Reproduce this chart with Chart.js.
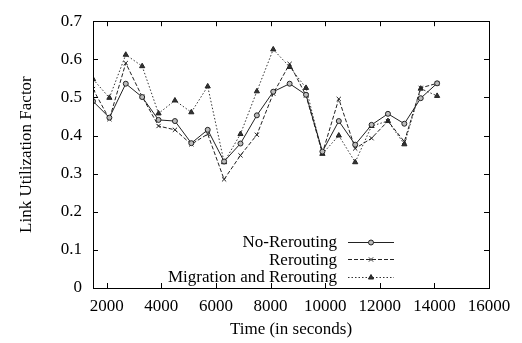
<!DOCTYPE html>
<html>
<head>
<meta charset="utf-8">
<script src="https://cdn.jsdelivr.net/npm/chart.js@4/dist/chart.umd.min.js"></script>
<style>
  html, body { margin: 0; padding: 0; background: #fff; }
  #wrap { width: 522px; height: 343px; }
</style>
</head>
<body>
<div id="wrap"><canvas id="chart"></canvas></div>
<script>
// Sample times (seconds) and the three series
const times = [1500, 2100, 2700, 3300, 3900, 4500, 5100, 5700, 6300, 6900, 7500,
               8100, 8700, 9300, 9900, 10500, 11100, 11700, 12300, 12900, 13500, 14100];
const noRerouting = [0.490, 0.447, 0.536, 0.501, 0.441, 0.438, 0.380, 0.415, 0.332, 0.379, 0.453,
                     0.515, 0.536, 0.507, 0.358, 0.438, 0.376, 0.428, 0.457, 0.431, 0.498, 0.537];
const rerouting = [0.522, 0.443, 0.590, 0.502, 0.425, 0.415, 0.377, 0.404, 0.285, 0.348, 0.402,
                   0.510, 0.588, 0.505, 0.354, 0.496, 0.366, 0.393, 0.438, 0.384, 0.525, 0.537];
const migration = [0.548, 0.499, 0.612, 0.582, 0.458, 0.492, 0.461, 0.529, 0.330, 0.404, 0.516,
                   0.626, 0.580, 0.525, 0.352, 0.400, 0.330, 0.425, 0.438, 0.377, 0.523, 0.504];
const xTicks = [2000, 4000, 6000, 8000, 10000, 12000, 14000, 16000];
const yTicks = [0, 0.1, 0.2, 0.3, 0.4, 0.5, 0.6, 0.7];

const FONT = 'Liberation Serif, Times New Roman, serif';
Chart.defaults.font.family = FONT;
Chart.defaults.font.size = 17;
Chart.defaults.color = '#000';

const toXY = (vals) => vals.map((v, i) => ({ x: times[i], y: v }));

// gnuplot-ish frame with inward ticks on all four sides
const framePlugin = {
  id: 'frame',
  afterDraw(chart) {
    const { ctx, chartArea: a, scales } = chart;
    const len = 5;
    ctx.save();
    ctx.strokeStyle = '#000';
    ctx.lineWidth = 1;
    ctx.strokeRect(Math.round(a.left) + 0.5, Math.round(a.top) + 0.5,
                   Math.round(a.right - a.left), Math.round(a.bottom - a.top));
    ctx.beginPath();
    xTicks.forEach(v => {
      const px = Math.round(scales.x.getPixelForValue(v)) + 0.5;
      ctx.moveTo(px, a.bottom); ctx.lineTo(px, a.bottom - len);
      ctx.moveTo(px, a.top); ctx.lineTo(px, a.top + len);
    });
    yTicks.forEach(v => {
      const py = Math.round(scales.y.getPixelForValue(v)) + 0.5;
      ctx.moveTo(a.left, py); ctx.lineTo(a.left + len, py);
      ctx.moveTo(a.right, py); ctx.lineTo(a.right - len, py);
    });
    ctx.stroke();
    ctx.restore();
  }
};

// legend inside the plot: label right-aligned, sample line to the right
const keyPlugin = {
  id: 'key',
  afterDatasetsDraw(chart) {
    const { ctx, chartArea: a } = chart;
    const textRight = a.left + 244;
    const lineL = a.left + 255, lineR = a.left + 301;
    ctx.save();
    ctx.font = '17px ' + FONT;
    ctx.textAlign = 'right';
    ctx.textBaseline = 'middle';
    chart.data.datasets.forEach((ds, i) => {
      const y = a.bottom - 46 + i * 17.3;
      ctx.fillStyle = '#000';
      ctx.fillText(ds.label, textRight, y + 1);
      ctx.strokeStyle = ds.borderColor;
      ctx.lineWidth = ds.borderWidth;
      ctx.setLineDash(ds.borderDash || []);
      ctx.beginPath();
      ctx.moveTo(lineL, Math.round(y) + 0.5);
      ctx.lineTo(lineR, Math.round(y) + 0.5);
      ctx.stroke();
      ctx.setLineDash([]);
      ctx.fillStyle = ds.pointBackgroundColor;
      ctx.strokeStyle = ds.pointBorderColor;
      ctx.lineWidth = 1;
      Chart.helpers.drawPoint(ctx, {
        pointStyle: ds.pointStyle, radius: ds.pointRadius, borderWidth: 1, rotation: 0
      }, (lineL + lineR) / 2, Math.round(y) + 0.5);
    });
    ctx.restore();
  }
};

new Chart(document.getElementById('chart'), {
  type: 'line',
  data: {
    datasets: [{
      label: 'No-Rerouting',
      data: toXY(noRerouting),
      borderColor: '#222',
      borderWidth: 1,
      pointStyle: 'circle',
      pointRadius: 2.5,
      pointBackgroundColor: '#bbb',
      pointBorderColor: '#222',
      pointBorderWidth: 1
    }, {
      label: 'Rerouting',
      data: toXY(rerouting),
      borderColor: '#222',
      borderWidth: 1,
      borderDash: [4, 2],
      pointStyle: 'crossRot',
      pointRadius: 3,
      pointBackgroundColor: '#222',
      pointBorderColor: '#222',
      pointBorderWidth: 1
    }, {
      label: 'Migration and Rerouting',
      data: toXY(migration),
      borderColor: '#333',
      borderWidth: 1,
      borderDash: [1.5, 2],
      pointStyle: 'triangle',
      pointRadius: 3,
      pointBackgroundColor: '#333',
      pointBorderColor: '#222',
      pointBorderWidth: 1
    }]
  },
  options: {
    responsive: true,
    maintainAspectRatio: false,
    animation: false,
    layout: { padding: { top: 12, right: 33, left: 0, bottom: 0 } },
    plugins: {
      legend: { display: false },
      tooltip: { enabled: false }
    },
    scales: {
      x: {
        type: 'linear',
        min: 1500,
        max: 16000,
        grid: { display: false, drawTicks: false },
        border: { display: false },
        afterBuildTicks: s => { s.ticks = xTicks.map(v => ({ value: v })); },
        afterFit: s => { s.height = 55; },
        ticks: { padding: 8, maxRotation: 0, autoSkip: false, callback: v => String(v) },
        title: { display: true, text: 'Time (in seconds)', padding: { top: 4, bottom: 3 } }
      },
      y: {
        min: 0,
        max: 0.7,
        grid: { display: false, drawTicks: false },
        border: { display: false },
        afterBuildTicks: s => { s.ticks = yTicks.map(v => ({ value: v })); },
        afterFit: s => { s.width = 93; },
        ticks: { padding: 11, callback: v => (v === 0 ? '0' : v.toFixed(1)) },
        title: { display: true, text: 'Link Utilization Factor', padding: { top: 16, bottom: 4 } }
      }
    }
  },
  plugins: [framePlugin, keyPlugin]
});
</script>
</body>
</html>
